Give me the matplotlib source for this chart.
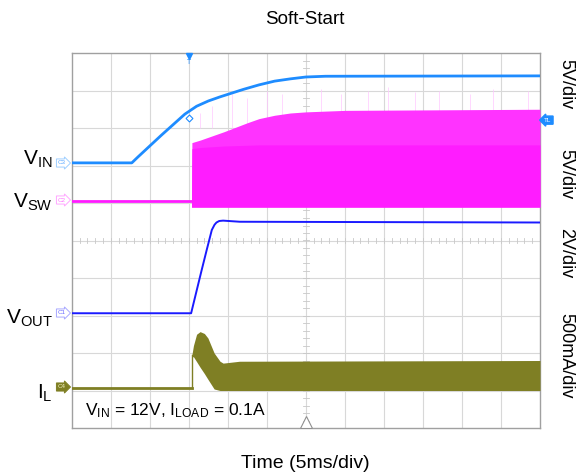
import matplotlib
matplotlib.use("Agg")
import matplotlib.pyplot as plt
import numpy as np

plt.rcParams['font.family'] = ['Liberation Sans', 'DejaVu Sans']
plt.rcParams['mathtext.fontset'] = 'custom'
plt.rcParams['mathtext.rm'] = 'Liberation Sans'

# traces, in scope divisions (x: 0..12, y: 0..10)
vin_x = [0, 1.54, 1.7, 2.0, 2.3, 2.6, 2.9, 3.2, 3.5, 3.8, 4.1, 4.4, 4.8, 5.2, 5.6, 6.0, 6.5, 12.0]
vin_y = [7.07, 7.07, 7.23, 7.52, 7.81, 8.09, 8.37, 8.58, 8.72, 8.83, 8.93, 9.03, 9.15,
         9.25, 9.31, 9.36, 9.38, 9.39]

vsw_flat_x = [0, 3.07]
vsw_flat_y = [6.06, 6.06]
vsw_env_x = [3.07, 3.08, 3.3, 3.6, 3.9, 4.2, 4.5, 4.8, 5.2, 5.6, 6.0, 7.0, 12.0]
vsw_top = [6.06, 7.61, 7.68, 7.79, 7.90, 8.02, 8.14, 8.25, 8.34, 8.40, 8.43, 8.47, 8.50]
vsw_bot = [5.89] * len(vsw_env_x)
vsw_core_top = [6.06, 7.45, 7.48, 7.50, 7.52, 7.53, 7.54, 7.55, 7.55, 7.55, 7.55, 7.55, 7.55]
spike_x = [3.3, 3.6, 4.1, 4.5, 5.0, 5.4, 6.4, 6.9, 7.6, 8.1, 8.8, 9.4, 10.2, 10.8, 11.7]
spike_top = [8.4, 8.6, 8.9, 8.8, 9.0, 8.9, 9.05, 8.9, 9.0, 9.1, 8.95, 9.0, 8.9, 9.05, 9.0]

vout_x = [0, 3.06, 3.33, 3.46, 3.59, 3.66, 3.71, 3.78, 3.88, 4.31, 12.0]
vout_y = [3.06, 3.06, 4.21, 4.75, 5.28, 5.42, 5.48, 5.52, 5.53, 5.50, 5.48]

il_base_x = [0, 3.07]
il_base_y = [1.08, 1.08]
il_x = [3.08, 3.12, 3.2, 3.29, 3.4, 3.49, 3.65, 3.80, 3.88, 4.3, 12.0]
il_top = [1.95, 2.2, 2.5, 2.57, 2.52, 2.40, 2.0, 1.78, 1.73, 1.78, 1.80]
il_bot = [1.90, 1.90, 1.77, 1.62, 1.45, 1.30, 1.04, 1.00, 1.00, 1.00, 1.00]

c_vin = '#1e8cff'
c_vsw = '#ff1aff'
c_vout = '#1a1aff'
c_il = '#7f7f24'

W, H = 582, 474
fig = plt.figure(figsize=(W / 100, H / 100), dpi=100)
ax = fig.add_axes([71.7 / W, 1 - 428 / H, (540 - 71.7) / W, (428 - 53) / H])
ax.set_xlim(0, 12)
ax.set_ylim(0, 10)
ax.set_xticks([])
ax.set_yticks([])
for s in ax.spines.values():
    s.set_color('#a0a0a0')
    s.set_linewidth(1)

# graticule
for gx in range(1, 12):
    ax.axvline(gx, color='#d8d8d8', lw=0.8, zorder=0)
for gy in range(1, 10):
    ax.axhline(gy, color='#d8d8d8', lw=0.8, zorder=0)
for t in np.arange(0.2, 12, 0.2):
    ax.plot([t, t], [4.94, 5.06], color='#c8c8c8', lw=0.6, zorder=0)
for t in np.arange(0.2, 10, 0.2):
    ax.plot([5.92, 6.08], [t, t], color='#c8c8c8', lw=0.6, zorder=0)

# VSW
ax.plot(vsw_flat_x, vsw_flat_y, color=c_vsw, lw=2, zorder=3)
ax.vlines(spike_x, 8.0, spike_top, color='#ffc8ff', lw=0.5, zorder=2)
ax.fill_between(vsw_env_x, vsw_bot, vsw_top, color='#ff33ff', lw=0, zorder=3)
ax.fill_between(vsw_env_x, vsw_bot, vsw_core_top, color='#ff1cff', lw=0, zorder=3)

# VIN
ax.plot(vin_x, vin_y, color=c_vin, lw=2, zorder=4)

# VOUT
ax.plot(vout_x, vout_y, color=c_vout, lw=1.4, zorder=4)

# IL
ax.plot(il_base_x, il_base_y, color=c_il, lw=2, zorder=4)
ax.plot([3.08, 3.08], [1.08, 1.95], color=c_il, lw=1, zorder=4)
ax.fill_between(il_x, il_bot, il_top, color=c_il, lw=0, zorder=4)

# scope markers
ax.plot(3, 9.93, marker='v', color=c_vin, ms=4, clip_on=False, zorder=6)
ax.text(3, 9.75, 'T', color=c_vin, fontsize=5, ha='center', va='center', zorder=6)
ax.plot(3, 8.27, marker='D', mfc='white', mec=c_vin, ms=3.5, mew=0.8, zorder=6)
ax.plot(6, 0.17, marker='^', mfc='white', mec='#909090', ms=8, mew=0.8, zorder=6)
ax.text(12.2, 8.21, 'TL', color='white', fontsize=4.5, ha='center', va='center',
        clip_on=False, bbox=dict(boxstyle='larrow,pad=0.25', fc=c_vin, ec=c_vin))

def px(x, y):
    return x / W, 1 - y / H

# channel tags on the left edge
tags = [('C3', 163, '#9fcfff', 'white', '#5aa8ff'),
        ('C2', 200, '#ffa8ff', 'white', '#ff70ff'),
        ('C1', 313, '#a8a8ff', 'white', '#6a6aff'),
        ('C4', 387, c_il, c_il, '#f0f0c0')]
for lbl, y, ec, fc, tc in tags:
    fig.text(*px(62, y), lbl, fontsize=4.5, color=tc, ha='center', va='center',
             bbox=dict(boxstyle='rarrow,pad=0.25', fc=fc, ec=ec, lw=0.7))

# channel names
names = [(r'$\mathregular{V_{IN}}$', 165), (r'$\mathregular{V_{SW}}$', 208),
         (r'$\mathregular{V_{OUT}}$', 324), (r'$\mathregular{I_{L}}$', 399)]
for nm, y in names:
    fig.text(*px(53, y), nm, fontsize=15, ha='right', va='baseline')

# scale labels on the right
scales = [('5V/div', 84), ('5V/div', 174), ('2V/div', 253), ('500mA/div', 356)]
for sc, y in scales:
    fig.text(*px(566, y), sc, fontsize=13, rotation=-90, ha='center', va='center')

fig.text(*px(85, 415), r'$\mathregular{V_{IN}}$ = 12V, $\mathregular{I_{LOAD}}$ = 0.1A',
         fontsize=12.5, ha='left', va='baseline')

fig.text(*px(305, 20), 'Soft-Start', fontsize=13.5, ha='center', va='center')
fig.text(*px(305, 463), 'Time (5ms/div)', fontsize=14, ha='center', va='center')

fig.savefig('out.png', dpi=100)
